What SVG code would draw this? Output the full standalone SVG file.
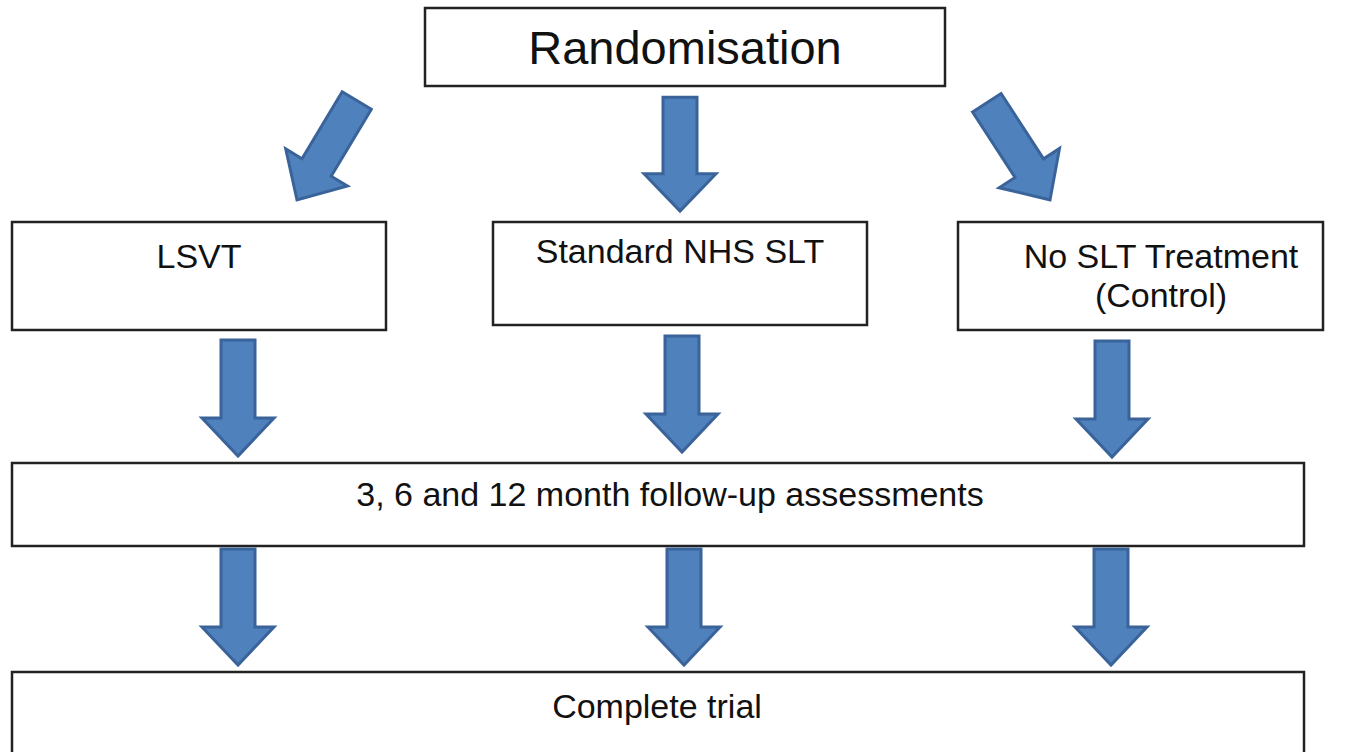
<svg xmlns="http://www.w3.org/2000/svg" xmlns:xlink="http://www.w3.org/1999/xlink" width="1350" height="752" viewBox="0 0 1350 752">
<style>
.box{fill:#fff;stroke:#222;stroke-width:2.5}
.t{font-family:"Liberation Sans",Arial,sans-serif;font-size:34px;fill:#111;text-anchor:middle}
.arr{fill:#4F81BD;stroke:#3A639A;stroke-width:3;stroke-linejoin:miter}
</style>
<defs>
<path id="arrow" class="arr" d="M-17,-116 H17 V-38 H36 L0,0 L-36,-38 H-17 Z"/>
</defs>
<rect width="1350" height="752" fill="#fff"/>
<g id="randomisation">
<rect class="box" x="425" y="8" width="520" height="78"/>
<text class="t" x="685" y="64" style="font-size:47px">Randomisation</text>
</g>
<g id="lsvt">
<rect class="box" x="12" y="222" width="374" height="108"/>
<text class="t" x="199" y="268">LSVT</text>
</g>
<g id="standard">
<rect class="box" x="493" y="222" width="374" height="103"/>
<text class="t" x="680" y="263">Standard NHS SLT</text>
</g>
<g id="nosl">
<rect class="box" x="958" y="222" width="365" height="108"/>
<text class="t" x="1161" y="268">No SLT Treatment</text>
<text class="t" x="1161" y="307">(Control)</text>
</g>
<g id="followup">
<rect class="box" x="12" y="463" width="1292" height="83"/>
<text class="t" x="670" y="506">3, 6 and 12 month follow-up assessments</text>
</g>
<g id="complete">
<rect class="box" x="12" y="672" width="1292" height="100"/>
<text class="t" x="657" y="718">Complete trial</text>
</g>
<g id="connectors">
<use xlink:href="#arrow" transform="translate(297,200) rotate(31)"/>
<use xlink:href="#arrow" transform="translate(680,211) scale(1,0.98)"/>
<use xlink:href="#arrow" transform="translate(1050,200) rotate(-33)"/>
<use xlink:href="#arrow" transform="translate(238,456)"/>
<use xlink:href="#arrow" transform="translate(682,452)"/>
<use xlink:href="#arrow" transform="translate(1112,457)"/>
<use xlink:href="#arrow" transform="translate(238,665)"/>
<use xlink:href="#arrow" transform="translate(684,665)"/>
<use xlink:href="#arrow" transform="translate(1111,665)"/>
</g>
</svg>
